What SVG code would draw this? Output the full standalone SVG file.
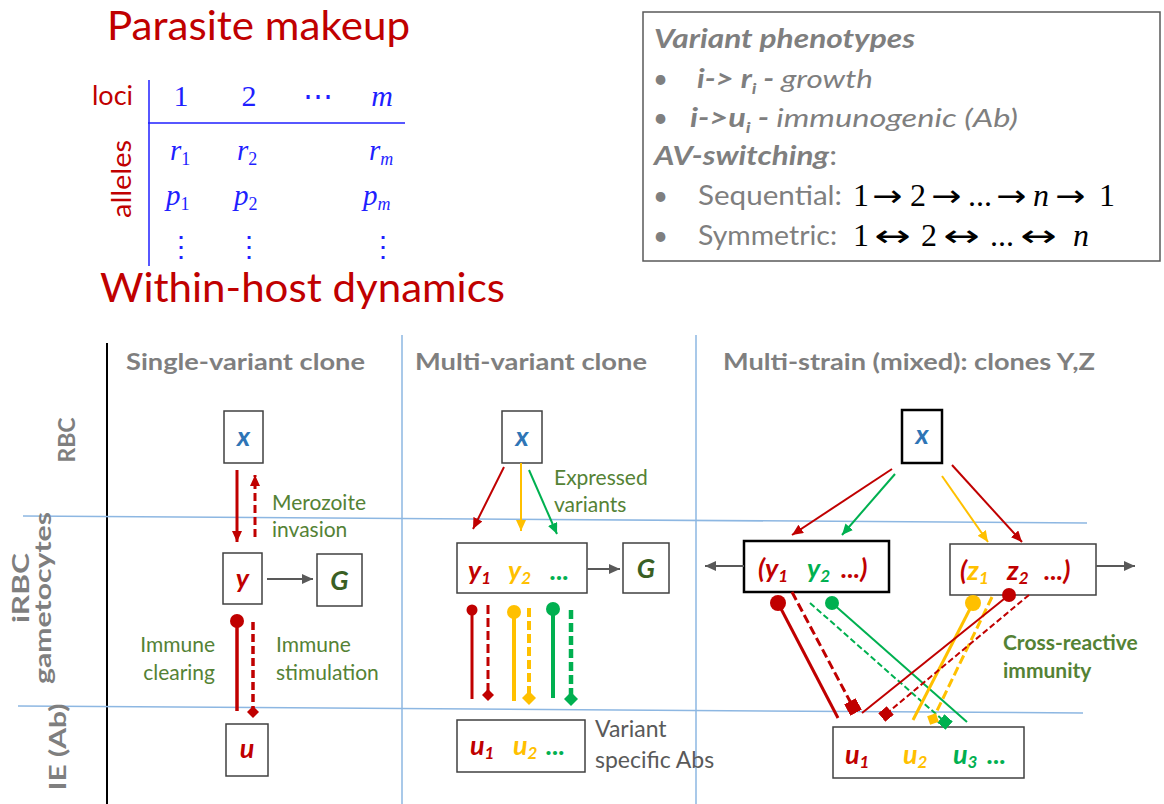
<svg xmlns="http://www.w3.org/2000/svg" width="1164" height="804" viewBox="0 0 1164 804">
  <defs>
    <style>
      .title { font-family: Lato, "Open Sans", "Liberation Sans", sans-serif; font-size: 40px; fill: #C00000; }
      .math { font-family: "Liberation Serif", "DejaVu Serif", serif; fill: #1F1FFF; }
      .mi { font-style: italic; }
      .gray { font-family: Lato, "Open Sans", "Liberation Sans", sans-serif; fill: #7F7F7F; }
      .eq { font-family: "Liberation Serif", "DejaVu Serif", serif; font-size: 32px; fill: #000000; }
      .arr { font-family: "DejaVu Sans", sans-serif; font-size: 30px; fill: #000000; }
      .hdr { font-family: Lato, "Open Sans", "Liberation Sans", sans-serif; font-weight: bold; fill: #7F7F7F; font-size: 22px; }
      .row { font-family: Lato, "Open Sans", "Liberation Sans", sans-serif; font-weight: bold; fill: #7F7F7F; font-size: 22px; }
      .note { font-family: Lato, "Open Sans", "Liberation Sans", sans-serif; fill: #548235; font-size: 21px; }
      .notegray { font-family: Lato, "Open Sans", "Liberation Sans", sans-serif; fill: #595959; font-size: 23px; }
      .var { font-family: Lato, "Open Sans", "Liberation Sans", sans-serif; font-weight: bold; font-style: italic; font-size: 27px; }
      .sub { font-size: 17px; }
      .box { fill: #FFFFFF; stroke: #404040; stroke-width: 1.5; }
      .boxb { fill: #FFFFFF; stroke: #000000; stroke-width: 2.5; }
      .sep { stroke: #8DB7E2; stroke-width: 1.5; fill: none; }
      .red { fill: #C00000; }
      .org { fill: #FFC000; }
      .grn { fill: #00B050; }
      .blu { fill: #2E75B6; }
      .dkg { fill: #3A5F24; }
    </style>
    <marker id="ah-red" markerUnits="userSpaceOnUse" markerWidth="11" markerHeight="10" refX="11" refY="5" orient="auto">
      <path d="M0,0 L11,5 L0,10 z" fill="#C00000"/>
    </marker>
    <marker id="ah-org" markerUnits="userSpaceOnUse" markerWidth="11" markerHeight="10" refX="11" refY="5" orient="auto">
      <path d="M0,0 L11,5 L0,10 z" fill="#FFC000"/>
    </marker>
    <marker id="ah-grn" markerUnits="userSpaceOnUse" markerWidth="11" markerHeight="10" refX="11" refY="5" orient="auto">
      <path d="M0,0 L11,5 L0,10 z" fill="#00B050"/>
    </marker>
    <marker id="ah-gry" markerUnits="userSpaceOnUse" markerWidth="11" markerHeight="10" refX="11" refY="5" orient="auto">
      <path d="M0,0 L11,5 L0,10 z" fill="#595959"/>
    </marker>
    <marker id="dm-red" markerUnits="userSpaceOnUse" markerWidth="12" markerHeight="12" refX="6" refY="6" orient="auto">
      <path d="M0,6 L6,0 L12,6 L6,12 z" fill="#C00000"/>
    </marker>
    <marker id="dm-org" markerUnits="userSpaceOnUse" markerWidth="14" markerHeight="14" refX="7" refY="7" orient="auto">
      <path d="M0,7 L7,0 L14,7 L7,14 z" fill="#FFC000"/>
    </marker>
    <marker id="dm-grn" markerUnits="userSpaceOnUse" markerWidth="14" markerHeight="14" refX="7" refY="7" orient="auto">
      <path d="M0,7 L7,0 L14,7 L7,14 z" fill="#00B050"/>
    </marker>
    <marker id="sq-red" markerUnits="userSpaceOnUse" markerWidth="13" markerHeight="13" refX="6.5" refY="6.5" orient="auto">
      <rect x="0" y="0" width="13" height="13" fill="#C00000"/>
    </marker>
    <marker id="sq-red-s" markerUnits="userSpaceOnUse" markerWidth="11" markerHeight="11" refX="5.5" refY="5.5" orient="auto">
      <rect x="0" y="0" width="11" height="11" fill="#C00000"/>
    </marker>
    <marker id="sq-grn" markerUnits="userSpaceOnUse" markerWidth="11" markerHeight="11" refX="5.5" refY="5.5" orient="auto">
      <rect x="0" y="0" width="11" height="11" fill="#00B050"/>
    </marker>
    <marker id="sq-org" markerUnits="userSpaceOnUse" markerWidth="13" markerHeight="13" refX="6.5" refY="6.5" orient="auto">
      <path d="M0,6.5 L6.5,0 L13,6.5 L6.5,13 z" fill="#FFC000"/>
    </marker>
  </defs>

  <rect width="1164" height="804" fill="#FFFFFF"/>

  <!-- Parasite makeup table -->
  <g id="parasite-makeup">
    <text class="title" x="107" y="40" textLength="303" lengthAdjust="spacingAndGlyphs">Parasite makeup</text>
    <line x1="149" y1="80" x2="149" y2="266" stroke="#1F1FFF" stroke-width="1.5"/>
    <line x1="148" y1="123" x2="405" y2="123" stroke="#1F1FFF" stroke-width="1.5"/>
    <text x="92" y="105" font-family="Lato, 'Open Sans', sans-serif" font-size="27" fill="#C00000">loci</text>
    <text transform="translate(131,179) rotate(-90)" text-anchor="middle" font-family="Lato, 'Open Sans', sans-serif" font-size="27" fill="#C00000" textLength="78" lengthAdjust="spacingAndGlyphs">alleles</text>
    <g class="math" font-size="30" text-anchor="middle">
      <text x="181" y="106">1</text>
      <text x="249" y="106">2</text>
      <text x="318" y="106">⋯</text>
      <text x="382" y="106" class="mi">m</text>
    </g>
    <g class="math" font-size="29">
      <text x="170" y="160" class="mi">r<tspan font-size="18" dy="5" font-style="normal">1</tspan></text>
      <text x="237" y="160" class="mi">r<tspan font-size="18" dy="5" font-style="normal">2</tspan></text>
      <text x="369" y="160" class="mi">r<tspan font-size="18" dy="5">m</tspan></text>
      <text x="166" y="205" class="mi">p<tspan font-size="18" dy="5" font-style="normal">1</tspan></text>
      <text x="234" y="205" class="mi">p<tspan font-size="18" dy="5" font-style="normal">2</tspan></text>
      <text x="363" y="205" class="mi">p<tspan font-size="18" dy="5">m</tspan></text>
    </g>
    <g class="math" font-size="28" text-anchor="middle">
      <text x="181" y="256">⋮</text>
      <text x="249" y="256">⋮</text>
      <text x="383" y="256">⋮</text>
    </g>
    <text class="title" x="100" y="302" textLength="405" lengthAdjust="spacingAndGlyphs">Within-host dynamics</text>
  </g>

  <!-- Variant phenotypes / switching legend -->
  <g id="legend">
    <rect x="643" y="12" width="517" height="249" fill="#FFFFFF" stroke="#595959" stroke-width="1.5"/>
    <g class="gray" font-size="26">
      <text x="654" y="48" font-weight="bold" font-style="italic" textLength="261" lengthAdjust="spacingAndGlyphs">Variant phenotypes</text>
      <text x="653" y="88">•</text>
      <text x="697" y="88" font-style="italic" textLength="176" lengthAdjust="spacingAndGlyphs"><tspan font-weight="bold">i-&gt; r</tspan><tspan font-weight="bold" font-size="16" dy="6">i</tspan><tspan dy="-6" font-weight="bold"> - </tspan>growth</text>
      <text x="653" y="127">•</text>
      <text x="690" y="127" font-style="italic" textLength="328" lengthAdjust="spacingAndGlyphs"><tspan font-weight="bold">i-&gt;u</tspan><tspan font-weight="bold" font-size="16" dy="6">i</tspan><tspan dy="-6" font-weight="bold">  - </tspan>immunogenic (Ab)</text>
      <text x="654" y="165" textLength="183" lengthAdjust="spacingAndGlyphs"><tspan font-weight="bold" font-style="italic">AV-switching</tspan>:</text>
      <text x="653" y="205">•</text>
      <text x="698" y="205" textLength="144" lengthAdjust="spacingAndGlyphs">Sequential:</text>
      <text x="653" y="245">•</text>
      <text x="698" y="245" textLength="139" lengthAdjust="spacingAndGlyphs">Symmetric:</text>
    </g>
    <!-- switching orders: one symbol per text, arrows slightly widened -->
    <g class="eq">
      <text x="853" y="206">1</text>
      <text x="910" y="206">2</text>
      <text x="968" y="206">...</text>
      <text x="1033" y="206" class="mi">n</text>
      <text x="1099" y="206">1</text>
      <text x="853" y="246">1</text>
      <text x="921" y="246">2</text>
      <text x="990" y="246">...</text>
      <text x="1073" y="246" class="mi">n</text>
    </g>
    <g class="arr">
      <text transform="translate(872,206) scale(1.2,1)">→</text>
      <text transform="translate(931,206) scale(1.2,1)">→</text>
      <text transform="translate(996,206) scale(1.2,1)">→</text>
      <text transform="translate(1055,206) scale(1.2,1)">→</text>
      <text transform="translate(874,246) scale(1.45,1)">↔</text>
      <text transform="translate(943,246) scale(1.45,1)">↔</text>
      <text transform="translate(1020,246) scale(1.45,1)">↔</text>
    </g>
  </g>

  <!-- Grid of compartments and scenarios -->
  <g id="grid">
    <line x1="107" y1="343" x2="107" y2="804" stroke="#000000" stroke-width="2"/>
    <line class="sep" x1="23" y1="516" x2="1087" y2="523"/>
    <line class="sep" x1="18" y1="706" x2="1083" y2="713"/>
    <line class="sep" x1="402" y1="335" x2="402" y2="804"/>
    <line class="sep" x1="696" y1="335" x2="696" y2="804"/>
    <text class="row" transform="translate(75,440) rotate(-90)" text-anchor="middle" textLength="45" lengthAdjust="spacingAndGlyphs">RBC</text>
    <text class="row" transform="translate(29,588) rotate(-90)" text-anchor="middle" textLength="70" lengthAdjust="spacingAndGlyphs">iRBC</text>
    <text class="row" transform="translate(51,598) rotate(-90)" text-anchor="middle" textLength="172" lengthAdjust="spacingAndGlyphs">gametocytes</text>
    <text class="row" transform="translate(66,747) rotate(-90)" text-anchor="middle" textLength="87" lengthAdjust="spacingAndGlyphs">IE (Ab)</text>
    <text class="hdr" x="126" y="370" textLength="239" lengthAdjust="spacingAndGlyphs">Single-variant clone</text>
    <text class="hdr" x="415" y="370" textLength="232" lengthAdjust="spacingAndGlyphs">Multi-variant clone</text>
    <text class="hdr" x="723" y="370" textLength="372" lengthAdjust="spacingAndGlyphs">Multi-strain (mixed): clones Y,Z</text>
  </g>

  <!-- Single-variant clone nodes -->
  <g id="sv-x">
    <rect class="box" x="224" y="411" width="39" height="52"/>
    <text class="var blu" x="243.5" y="446" text-anchor="middle">x</text>
  </g>
  <g id="sv-y">
    <rect class="box" x="223" y="553" width="39" height="51"/>
    <text class="var red" x="242.5" y="588" text-anchor="middle">y</text>
  </g>
  <g id="sv-G">
    <rect class="box" x="317" y="554" width="45" height="52"/>
    <text class="var dkg" x="339.5" y="590" text-anchor="middle">G</text>
  </g>
  <g id="sv-u">
    <rect class="box" x="226" y="724" width="42" height="52"/>
    <text class="var red" x="247" y="758" text-anchor="middle">u</text>
  </g>

  <!-- Multi-variant clone nodes -->
  <g id="mv-x">
    <rect class="box" x="502" y="411" width="40" height="52"/>
    <text class="var blu" x="522" y="446" text-anchor="middle">x</text>
  </g>
  <g id="mv-y">
    <rect class="box" x="457" y="543" width="130" height="50"/>
    <text class="var" x="468" y="580"><tspan class="red">y</tspan><tspan class="red sub" dy="4">1</tspan><tspan class="org" x="508" dy="-4">y</tspan><tspan class="org sub" dy="4">2</tspan><tspan class="grn" x="550" dy="-4">...</tspan></text>
  </g>
  <g id="mv-G">
    <rect class="box" x="623" y="543" width="46" height="50"/>
    <text class="var dkg" x="646" y="578" text-anchor="middle">G</text>
  </g>
  <g id="mv-u">
    <rect class="box" x="457" y="720" width="128" height="52"/>
    <text class="var" x="470" y="755"><tspan class="red">u</tspan><tspan class="red sub" dy="4">1</tspan><tspan class="org" x="513" dy="-4">u</tspan><tspan class="org sub" dy="4">2</tspan><tspan class="grn" x="546" dy="-4">...</tspan></text>
  </g>

  <!-- Multi-strain nodes -->
  <g id="ms-x">
    <rect class="boxb" x="902" y="410" width="40" height="53"/>
    <text class="var blu" x="922" y="444" text-anchor="middle">x</text>
  </g>
  <g id="ms-y">
    <rect class="boxb" x="744" y="541" width="145" height="51"/>
    <text class="var" x="758" y="578"><tspan class="red">(y</tspan><tspan class="red sub" dy="4">1</tspan><tspan class="grn" x="807" dy="-4">y</tspan><tspan class="grn sub" dy="4">2</tspan><tspan class="red" x="841" dy="-4">...)</tspan></text>
  </g>
  <g id="ms-z">
    <rect class="box" x="950" y="544" width="146" height="51"/>
    <text class="var" x="960" y="580"><tspan class="red">(</tspan><tspan class="org">z</tspan><tspan class="org sub" dy="4">1</tspan><tspan class="red" x="1007" dy="-4">z</tspan><tspan class="red sub" dy="4">2</tspan><tspan class="red" x="1044" dy="-4">...)</tspan></text>
  </g>
  <g id="ms-u">
    <rect class="box" x="833" y="727" width="191" height="51"/>
    <text class="var" x="845" y="764"><tspan class="red">u</tspan><tspan class="red sub" dy="4">1</tspan><tspan class="org" x="903" dy="-4">u</tspan><tspan class="org sub" dy="4">2</tspan><tspan class="grn" x="953" dy="-4">u</tspan><tspan class="grn sub" dy="4">3</tspan><tspan class="grn" x="987" dy="-4">...</tspan></text>
  </g>

  <!-- Annotations -->
  <g id="labels">
    <text class="note" x="272" y="510">Merozoite</text>
    <text class="note" x="272" y="537">invasion</text>
    <text class="note" x="215" y="652" text-anchor="end">Immune</text>
    <text class="note" x="215" y="680" text-anchor="end">clearing</text>
    <text class="note" x="276" y="652">Immune</text>
    <text class="note" x="276" y="680">stimulation</text>
    <text class="note" x="554" y="485">Expressed</text>
    <text class="note" x="554" y="512">variants</text>
    <text class="notegray" x="595" y="737">Variant</text>
    <text class="notegray" x="595" y="768">specific Abs</text>
    <text class="note" x="1003" y="650" font-weight="bold" fill="#3A5F24">Cross-reactive</text>
    <text class="note" x="1003" y="678" font-weight="bold" fill="#3A5F24">immunity</text>
  </g>

  <!-- Connectors -->
  <g id="connectors" fill="none">
    <!-- single-variant clone -->
    <line x1="237" y1="470" x2="237" y2="542" stroke="#C00000" stroke-width="3" marker-end="url(#ah-red)"/>
    <line x1="255" y1="537" x2="255" y2="475" stroke="#C00000" stroke-width="3" stroke-dasharray="8 4" marker-end="url(#ah-red)"/>
    <line x1="267" y1="579" x2="313" y2="579" stroke="#595959" stroke-width="2" marker-end="url(#ah-gry)"/>
    <line x1="237" y1="621" x2="237" y2="711" stroke="#C00000" stroke-width="3.5"/>
    <circle cx="237" cy="621" r="7" fill="#C00000"/>
    <line x1="253" y1="622" x2="253" y2="712" stroke="#C00000" stroke-width="3.5" stroke-dasharray="8 4" marker-end="url(#dm-red)"/>

    <!-- multi-variant clone -->
    <line x1="504" y1="467" x2="473" y2="529" stroke="#C00000" stroke-width="2" marker-end="url(#ah-red)"/>
    <line x1="521" y1="463" x2="521" y2="531" stroke="#FFC000" stroke-width="2" marker-end="url(#ah-org)"/>
    <line x1="529" y1="470" x2="557" y2="534" stroke="#00B050" stroke-width="2" marker-end="url(#ah-grn)"/>
    <line x1="587" y1="569" x2="620" y2="569" stroke="#595959" stroke-width="2" marker-end="url(#ah-gry)"/>
    <line x1="472" y1="610" x2="472" y2="699" stroke="#C00000" stroke-width="3"/>
    <circle cx="472" cy="610" r="5.5" fill="#C00000"/>
    <line x1="488" y1="605" x2="488" y2="695" stroke="#C00000" stroke-width="3" stroke-dasharray="9 4" marker-end="url(#dm-red)"/>
    <line x1="514" y1="612" x2="514" y2="701" stroke="#FFC000" stroke-width="4"/>
    <circle cx="514" cy="612" r="7" fill="#FFC000"/>
    <line x1="529" y1="608" x2="529" y2="698" stroke="#FFC000" stroke-width="4" stroke-dasharray="9 4" marker-end="url(#dm-org)"/>
    <line x1="553" y1="609" x2="553" y2="698" stroke="#00B050" stroke-width="4"/>
    <circle cx="553" cy="609" r="7" fill="#00B050"/>
    <line x1="571" y1="610" x2="571" y2="699" stroke="#00B050" stroke-width="4.5" stroke-dasharray="9 4" marker-end="url(#dm-grn)"/>

    <!-- multi-strain infection -->
    <line x1="892" y1="469" x2="792" y2="535" stroke="#C00000" stroke-width="2" marker-end="url(#ah-red)"/>
    <line x1="895" y1="474" x2="842" y2="535" stroke="#00B050" stroke-width="2" marker-end="url(#ah-grn)"/>
    <line x1="942" y1="476" x2="988" y2="542" stroke="#FFC000" stroke-width="2" marker-end="url(#ah-org)"/>
    <line x1="952" y1="465" x2="1022" y2="542" stroke="#C00000" stroke-width="2" marker-end="url(#ah-red)"/>
    <line x1="744" y1="566" x2="705" y2="566" stroke="#595959" stroke-width="2" marker-end="url(#ah-gry)"/>
    <line x1="1096" y1="566" x2="1135" y2="566" stroke="#595959" stroke-width="2" marker-end="url(#ah-gry)"/>

    <line x1="778" y1="603" x2="838" y2="718" stroke="#C00000" stroke-width="3"/>
    <circle cx="778" cy="603" r="8" fill="#C00000"/>
    <line x1="792" y1="592" x2="853" y2="707" stroke="#C00000" stroke-width="3" stroke-dasharray="9 4" marker-end="url(#sq-red)"/>
    <line x1="810" y1="603" x2="945" y2="722" stroke="#00B050" stroke-width="2" stroke-dasharray="6 3" marker-end="url(#sq-grn)"/>
    <line x1="832" y1="603" x2="967" y2="722" stroke="#00B050" stroke-width="2"/>
    <circle cx="832" cy="603" r="7" fill="#00B050"/>
    <line x1="973" y1="603" x2="913" y2="720" stroke="#FFC000" stroke-width="3"/>
    <circle cx="973" cy="603" r="8" fill="#FFC000"/>
    <line x1="992" y1="597" x2="933" y2="719" stroke="#FFC000" stroke-width="3" stroke-dasharray="9 4" marker-end="url(#sq-org)"/>
    <line x1="1009" y1="595" x2="862" y2="713" stroke="#C00000" stroke-width="2"/>
    <circle cx="1009" cy="595" r="7" fill="#C00000"/>
    <line x1="1029" y1="595" x2="886" y2="714" stroke="#C00000" stroke-width="2" stroke-dasharray="6 3" marker-end="url(#sq-red-s)"/>
  </g>
</svg>
